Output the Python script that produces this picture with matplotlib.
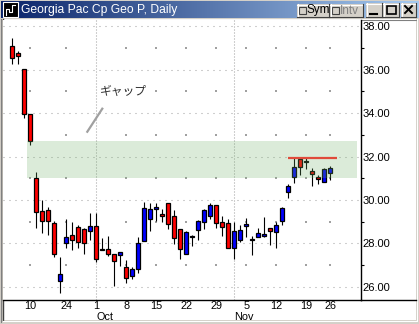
import matplotlib
matplotlib.use("Agg")
import matplotlib.pyplot as plt
import numpy as np
from matplotlib.patches import Rectangle

plt.rcParams["font.family"] = ["Liberation Sans", "DejaVu Sans"]
plt.rcParams["lines.scale_dashes"] = False

# Georgia Pac Cp, daily, 2001-09-05 .. 2001-11-26 (trading days only)
dates = ["09-05", "09-06", "09-07", "09-10", "09-17", "09-18", "09-19", "09-20", "09-21",
         "09-24", "09-25", "09-26", "09-27", "09-28",
         "10-01", "10-02", "10-03", "10-04", "10-05", "10-08", "10-09", "10-10", "10-11",
         "10-12", "10-15", "10-16", "10-17", "10-18", "10-19", "10-22", "10-23", "10-24",
         "10-25", "10-26", "10-29", "10-30", "10-31",
         "11-01", "11-02", "11-05", "11-06", "11-07", "11-08", "11-09", "11-12", "11-13",
         "11-14", "11-15", "11-16", "11-19", "11-20", "11-21", "11-23", "11-26"]
opens = [37.08, 36.76, 36.01, 33.94, 31.00, 29.48, 29.53, 28.94, 26.26, 28.01,
         28.38, 28.74, 28.65, 28.59, 28.79, 27.75, 27.75, 27.50, 27.46, 26.91,
         26.52, 26.81, 28.10, 29.11, 29.57, 29.36, 29.85, 29.25, 28.65, 27.50,
         28.29, 28.61, 28.97, 29.25, 29.76, 28.97, 28.93, 27.78, 28.15, 28.79,
         28.15, 28.29, 28.33, 28.70, 28.51, 29.02, 30.35, 31.04, 31.87, 31.73,
         31.32, 31.04, 30.81, 31.23]
highs = [37.45, 36.84, 36.01, 33.94, 31.29, 30.00, 29.68, 29.03, 27.38, 29.13,
         28.99, 28.85, 28.70, 29.42, 29.42, 28.25, 28.34, 27.50, 27.60, 27.26,
         26.92, 28.29, 29.89, 29.86, 29.86, 29.57, 29.85, 29.53, 28.65, 28.56,
         28.38, 29.07, 29.57, 29.85, 29.76, 29.25, 29.11, 28.97, 28.84, 29.16,
         28.33, 28.71, 29.20, 28.70, 28.97, 29.66, 30.72, 31.92, 31.92, 31.92,
         31.46, 31.14, 31.46, 31.55]
lows = [36.27, 36.27, 33.78, 32.53, 28.73, 28.50, 28.38, 27.39, 25.74, 27.81,
        27.70, 27.81, 27.53, 28.15, 27.14, 27.69, 27.41, 26.06, 26.98, 26.17,
        26.38, 26.63, 28.10, 28.56, 29.02, 28.97, 28.65, 27.96, 27.30, 27.50,
        27.87, 28.15, 28.65, 29.13, 28.73, 28.36, 27.78, 27.30, 28.06, 28.29,
        27.49, 28.29, 28.29, 27.92, 27.78, 28.84, 30.08, 30.77, 31.14, 31.41,
        30.63, 30.72, 30.81, 30.91]
closes = [36.51, 36.61, 33.94, 32.71, 29.46, 29.02, 29.02, 27.50, 26.58, 28.29,
          28.15, 28.06, 28.01, 28.79, 27.30, 27.69, 27.50, 27.18, 27.60, 26.40,
          26.81, 28.01, 29.62, 29.57, 29.66, 29.25, 28.88, 28.24, 27.73, 28.51,
          28.33, 29.02, 29.53, 29.76, 28.93, 28.74, 27.78, 28.56, 28.61, 28.88,
          28.19, 28.47, 28.42, 28.56, 28.84, 29.62, 30.63, 31.50, 31.50, 31.78,
          31.18, 30.95, 31.41, 31.46]

week_ticks = ["09-10", "09-24", "10-01", "10-08", "10-15", "10-22", "10-29",
              "11-05", "11-12", "11-19", "11-26"]
month_starts = ["10-01", "11-01"]
month_names = ["Oct", "Nov"]
price_ticks = [26, 28, 30, 32, 34, 36, 38]

gap_top = 32.71
gap_bottom = 31.03
resistance = 31.95
gap_label = "ギャップ"

W, H = 419, 324
fig = plt.figure(figsize=(W / 100, H / 100), dpi=100, facecolor="#d4d0c8")

# ---- window chrome (pixel coordinates) ----
bg = fig.add_axes([0, 0, 1, 1])
bg.axis("off")
grad = np.linspace(0, 1, 256)[None, :, None]
c0 = np.array([10, 36, 106]) / 255
c1 = np.array([166, 202, 240]) / 255
bg.imshow(c0 + (c1 - c0) * grad, extent=[1, 418, 18, 1], aspect="auto")
bg.add_patch(Rectangle((3, 19), 413, 301, facecolor="white", edgecolor="none"))
bg.plot([3, 416], [19.5, 19.5], color="#808080", lw=0.8)
bg.plot([2.5, 2.5], [19, 320], color="#404040", lw=1.0)
bg.plot([1, 1], [19, 322], color="#808080", lw=0.8)
bg.plot([3, 416], [320.5, 320.5], color="#ffffff", lw=0.8)
bg.plot([416.5, 416.5], [19, 321], color="#ffffff", lw=0.8)
bg.plot([361, 416], [300, 300], color="black", lw=1.0)

# icon
bg.add_patch(Rectangle((3, 2), 15, 15, facecolor="black", edgecolor="white", lw=0.8))
bg.plot([6, 6, 9, 9, 12, 12, 15], [15, 9, 9, 12, 12, 5, 5], color="white", lw=0.8)


def button(x0, x1, y0, y1):
    bg.add_patch(Rectangle((x0, y0), x1 - x0, y1 - y0, facecolor="#d4d0c8", edgecolor="none"))
    bg.plot([x0, x1], [y0 + 0.5, y0 + 0.5], color="white", lw=0.8)
    bg.plot([x0 + 0.5, x0 + 0.5], [y0, y1], color="white", lw=0.8)
    bg.plot([x0, x1], [y1 - 0.5, y1 - 0.5], color="#404040", lw=0.8)
    bg.plot([x1 - 0.5, x1 - 0.5], [y0, y1], color="#404040", lw=0.8)


button(297, 329, 4, 17)
bg.add_patch(Rectangle((299, 6.5), 7, 7, facecolor="#d4d0c8", edgecolor="#404040", lw=0.8))
bg.text(306.5, 10.5, "Sym", fontsize=8.5, color="black", va="center", ha="left")
button(330, 363, 4, 17)
bg.add_patch(Rectangle((332, 6.5), 7, 7, facecolor="#d4d0c8", edgecolor="#404040", lw=0.8))
bg.text(340, 10.5, "Intv", fontsize=8.5, color="#808080", va="center", ha="left")
button(366, 382, 3, 17)
bg.plot([370, 377], [13.5, 13.5], color="black", lw=1.5)
button(383, 399, 3, 17)
bg.add_patch(Rectangle((386.5, 5.5), 9, 8, facecolor="none", edgecolor="black", lw=1.2))
button(401, 416, 3, 17)
bg.plot([405, 412], [6, 13], color="black", lw=1.4)
bg.plot([405, 412], [13, 6], color="black", lw=1.4)
bg.text(21, 10, "Georgia Pac Cp Geo P, Daily", fontsize=8.7, color="white",
        va="center", ha="left")
bg.set_xlim(0, W)
bg.set_ylim(H, 0)

# ---- price chart ----
ax = fig.add_axes([3 / W, 24 / H, 358 / W, 280 / H])
ax.set_facecolor("white")
idx = np.arange(len(dates))
o = np.array(opens)
c = np.array(closes)
up = c >= o
body_col = np.where(up, "#0000ff", "#ff0000")

ax.vlines(idx, lows, highs, color="black", lw=0.8, zorder=2)
ax.bar(idx, np.abs(c - o), bottom=np.minimum(o, c), width=0.72, color=body_col,
       edgecolor="black", linewidth=0.9, zorder=2.5)

# grid
for p in price_ticks:
    ax.axhline(p, color="#a0a0a0", lw=0.75, linestyle=(0, (0.72, 3.6)), zorder=1)
for m in month_starts:
    ax.axvline(dates.index(m), color="#a0a0a0", lw=0.75, linestyle=(0, (0.72, 1.44)), zorder=1)
dot_x = [dates.index(d) for d in week_ticks if d not in month_starts]
odd_levels = [p + 1 for p in price_ticks[:-1]]
gx, gy = np.meshgrid(dot_x, odd_levels)
ax.scatter(gx.ravel(), gy.ravel(), s=0.6, marker="s", color="#a0a0a0", lw=0, zorder=1)

# gap band, resistance, label
ax.fill_between([2.5, 57.4], gap_bottom, gap_top, color=(0.45, 0.70, 0.42),
                alpha=0.25, lw=0, zorder=3)
ax.hlines(resistance, 46, 54.2, color="#e04a3a", lw=1.6, zorder=4)
ax.plot([12.5, 15.0], [33.14, 34.20], color="#a0a0a0", lw=1.6, zorder=4)
ax.text(14.6, 35.0, gap_label, fontsize=8.5, color="#303030", ha="left", va="center",
        family=["Noto Sans CJK JP", "DejaVu Sans"])

ax.set_xlim(-1.55, 58.12)
ax.set_ylim(25.40, 38.28)
for s in ["top", "left"]:
    ax.spines[s].set_visible(False)
for s in ["right", "bottom"]:
    ax.spines[s].set_color("black")
    ax.spines[s].set_linewidth(1.0)

ax.yaxis.tick_right()
ax.set_yticks(price_ticks)
ax.set_yticklabels([f"{p:.2f}" for p in price_ticks])
ax.set_yticks(odd_levels, minor=True)
ax.tick_params(axis="y", which="major", length=0, pad=1, labelsize=8)
ax.tick_params(axis="y", which="minor", length=2, width=0.8, direction="out")

ax.set_xticks([dates.index(d) for d in week_ticks])
ax.set_xticklabels([str(int(d[3:])) for d in week_ticks])
ax.tick_params(axis="x", length=0, pad=0.8, labelsize=7.8)
for m, name in zip(month_starts, month_names):
    ax.annotate(name, xy=(dates.index(m), 0), xycoords=("data", "axes fraction"),
                xytext=(0, -12.3), textcoords="offset points", fontsize=7.8,
                ha="left", va="center")

fig.savefig("out.png", dpi=100, facecolor=fig.get_facecolor())
